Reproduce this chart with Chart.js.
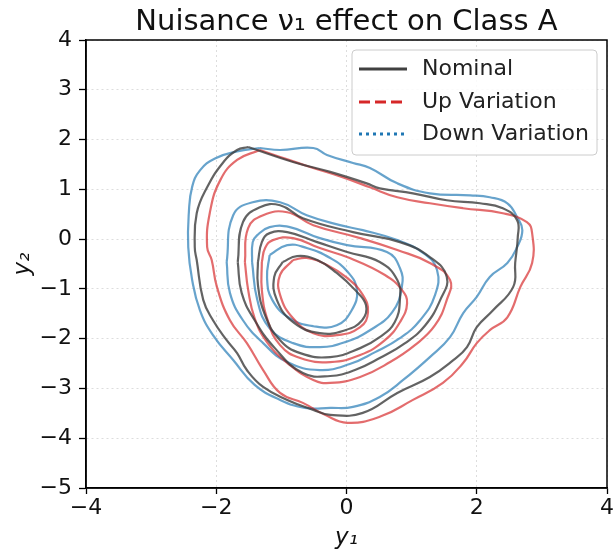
<!DOCTYPE html>
<html>
<head>
<meta charset="utf-8">
<script src="https://cdn.jsdelivr.net/npm/chart.js@4.4.1/dist/chart.umd.min.js"></script>
<style>
  html, body { margin: 0; padding: 0; background: #fff; }
  #wrap { width: 616px; height: 553px; }
</style>
</head>
<body>
<div id="wrap"><canvas id="ContourChart"></canvas></div>
<script>
// contour levels, outer ring first, as [y1, y2] pairs
const nominalOuter = [[-1.51,1.85],[-0.82,1.55],[-0.25,1.35],[0.31,1.12],[0.51,1.02],[1.02,0.92],[1.54,0.78],[2.05,0.72],[2.40,0.62],[2.62,0.38],[2.63,0.04],[2.59,-0.48],[2.56,-0.96],[2.25,-1.43],[2.00,-1.77],[1.85,-2.17],[1.64,-2.43],[1.28,-2.77],[0.78,-3.09],[0.25,-3.49],[-0.25,-3.53],[-0.51,-3.43],[-0.91,-3.23],[-1.28,-2.97],[-1.53,-2.63],[-1.68,-2.29],[-1.84,-2.03],[-2.05,-1.63],[-2.20,-1.22],[-2.30,-0.42],[-2.33,-0.16],[-2.30,0.52],[-2.14,1.04],[-1.90,1.53],[-1.68,1.79]];
const nominalSecond = [[-1.67,-0.46],[-1.59,0.34],[-1.33,0.64],[-1.02,0.68],[-0.67,0.42],[0.10,0.14],[0.82,-0.06],[1.28,-0.36],[1.54,-0.76],[1.44,-1.22],[1.21,-1.73],[0.90,-2.09],[0.51,-2.39],[0.13,-2.63],[-0.25,-2.75],[-0.67,-2.69],[-1.10,-2.19],[-1.41,-1.63],[-1.61,-1.08]];
const nominalThird = [[-1.36,-0.46],[-1.30,-0.06],[-1.18,0.12],[-0.91,0.14],[-0.45,-0.06],[0.01,-0.26],[0.51,-0.46],[0.78,-0.82],[0.82,-1.22],[0.74,-1.67],[0.51,-1.97],[0.21,-2.19],[-0.25,-2.37],[-0.71,-2.29],[-1.02,-2.03],[-1.25,-1.53],[-1.36,-0.92]];
const nominalInner = [[-0.98,-0.46],[-0.76,-0.34],[-0.45,-0.42],[-0.15,-0.68],[0.13,-1.02],[0.30,-1.33],[0.24,-1.63],[-0.02,-1.83],[-0.41,-1.89],[-0.82,-1.67],[-1.07,-1.22],[-1.11,-0.76]];

const upOuter = [[-1.33,1.79],[-1.02,1.65],[-0.56,1.45],[-0.05,1.24],[0.36,1.04],[0.78,0.84],[1.28,0.72],[1.79,0.62],[2.40,0.52],[2.77,0.34],[2.85,0.12],[2.85,-0.48],[2.67,-0.96],[2.47,-1.57],[2.20,-1.83],[2.00,-2.09],[1.79,-2.49],[1.48,-2.89],[1.02,-3.23],[0.51,-3.57],[0.01,-3.69],[-0.33,-3.53],[-0.67,-3.29],[-1.02,-3.09],[-1.28,-2.63],[-1.53,-2.09],[-1.79,-1.63],[-1.99,-0.96],[-2.07,-0.42],[-2.14,-0.16],[-2.10,0.52],[-1.94,1.18],[-1.68,1.59]];
const upSecond = [[-1.56,-0.46],[-1.51,0.22],[-1.28,0.48],[-0.91,0.54],[-0.51,0.28],[0.21,0.02],[0.78,-0.22],[1.28,-0.48],[1.59,-0.82],[1.54,-1.22],[1.36,-1.73],[1.05,-2.13],[0.67,-2.47],[0.21,-2.77],[-0.25,-2.89],[-0.51,-2.83],[-0.87,-2.53],[-1.21,-2.09],[-1.41,-1.59],[-1.51,-1.02]];
const upThird = [[-1.30,-0.46],[-1.25,-0.18],[-1.13,-0.02],[-0.82,0.02],[-0.41,-0.18],[0.05,-0.38],[0.59,-0.72],[0.85,-1.02],[0.93,-1.29],[0.82,-1.67],[0.59,-2.03],[0.21,-2.33],[-0.25,-2.47],[-0.71,-2.39],[-1.02,-2.13],[-1.21,-1.63],[-1.30,-1.02]];
const upInner = [[-0.82,-0.42],[-0.61,-0.38],[-0.30,-0.52],[0.01,-0.78],[0.25,-1.12],[0.33,-1.47],[0.21,-1.77],[-0.15,-1.93],[-0.51,-1.89],[-0.82,-1.59],[-1.02,-1.12],[-1.02,-0.72]];

const downOuter = [[-1.33,1.83],[-1.02,1.79],[-0.51,1.83],[-0.30,1.69],[0.10,1.53],[0.36,1.43],[0.78,1.12],[1.28,0.92],[1.90,0.88],[2.20,0.84],[2.47,0.72],[2.62,0.44],[2.70,0.18],[2.62,-0.16],[2.47,-0.48],[2.20,-0.76],[2.00,-1.16],[1.79,-1.49],[1.59,-1.97],[1.28,-2.37],[0.87,-2.83],[0.51,-3.17],[0.10,-3.37],[-0.25,-3.39],[-0.64,-3.39],[-1.02,-3.23],[-1.41,-2.93],[-1.74,-2.43],[-2.05,-1.93],[-2.25,-1.43],[-2.37,-0.82],[-2.43,-0.16],[-2.42,0.55],[-2.37,1.05],[-2.25,1.38],[-2.02,1.62],[-1.68,1.76]];
const downSecond = [[-1.84,-0.46],[-1.74,0.48],[-1.44,0.74],[-1.02,0.74],[-0.61,0.48],[-0.10,0.28],[0.25,0.18],[0.78,-0.02],[1.18,-0.28],[1.39,-0.62],[1.36,-1.12],[1.13,-1.63],[0.82,-1.99],[0.44,-2.27],[0.05,-2.51],[-0.41,-2.63],[-0.91,-2.47],[-1.28,-2.09],[-1.59,-1.63],[-1.79,-1.08]];
const downThird = [[-1.45,-0.46],[-1.44,-0.06],[-1.37,0.08],[-1.18,0.24],[-0.87,0.24],[-0.41,0.02],[0.01,-0.12],[0.62,-0.26],[0.82,-0.58],[0.85,-0.96],[0.70,-1.47],[0.36,-1.83],[-0.02,-2.07],[-0.41,-2.17],[-0.82,-2.09],[-1.18,-1.79],[-1.37,-1.22]];
const downInner = [[-1.18,-0.32],[-0.91,-0.12],[-0.61,-0.18],[-0.25,-0.38],[0.02,-0.66],[0.16,-1.02],[0.08,-1.43],[-0.15,-1.73],[-0.51,-1.75],[-0.87,-1.59],[-1.14,-1.22],[-1.22,-0.78]];

const xTicks = [-4, -2, 0, 2, 4];
const yTicks = [-5, -4, -3, -2, -1, 0, 1, 2, 3, 4];
const legendLabels = ['Nominal', 'Up Variation', 'Down Variation'];

const NOMINAL = 'rgba(60, 60, 60, 0.8)';
const UP = 'rgba(214, 39, 40, 0.68)';
const DOWN = 'rgba(31, 119, 180, 0.68)';
const FONT = "'DejaVu Sans', sans-serif";

function ring(points, color) {
  const pts = points.map(p => ({x: p[0], y: p[1]}));
  pts.push(pts[0]);
  return {
    data: pts,
    showLine: true,
    borderColor: color,
    borderWidth: 2.2,
    pointRadius: 0,
    tension: 0.45,
    fill: false
  };
}

const minus = v => String(v).replace('-', '\u2212');

// legend inside the axes, top right, like matplotlib
const boxLegend = {
  id: 'boxLegend',
  afterDraw(chart) {
    const ctx = chart.ctx;
    const x0 = 352, y0 = 50, w = 245, h = 105;
    ctx.save();
    ctx.beginPath();
    ctx.roundRect(x0, y0, w, h, 4);
    ctx.fillStyle = 'rgba(255,255,255,0.85)';
    ctx.fill();
    ctx.strokeStyle = '#cccccc';
    ctx.lineWidth = 1;
    ctx.stroke();
    const rows = [69, 102, 134];
    const styles = [
      {color: '#404040', dash: []},
      {color: '#d62728', dash: [11, 5]},
      {color: '#1f77b4', dash: [3, 4]}
    ];
    rows.forEach((ry, i) => {
      ctx.beginPath();
      ctx.setLineDash(styles[i].dash);
      ctx.strokeStyle = styles[i].color;
      ctx.lineWidth = 3;
      ctx.moveTo(359, ry);
      ctx.lineTo(407, ry);
      ctx.stroke();
      ctx.setLineDash([]);
      ctx.fillStyle = '#222';
      ctx.font = '22px ' + FONT;
      ctx.textBaseline = 'middle';
      ctx.fillText(legendLabels[i], 422, ry);
    });
    ctx.restore();
  }
};

const frame = {
  id: 'frame',
  afterDraw(chart) {
    const a = chart.chartArea, ctx = chart.ctx;
    ctx.save();
    ctx.strokeStyle = '#000';
    ctx.lineWidth = 1.5;
    ctx.strokeRect(a.left, a.top, a.right - a.left, a.bottom - a.top);
    ctx.restore();
  }
};

const ctx = document.getElementById('ContourChart');

new Chart(ctx, {
  type: 'scatter',
  data: {
    datasets: [
      ring(nominalOuter, NOMINAL), ring(nominalSecond, NOMINAL), ring(nominalThird, NOMINAL), ring(nominalInner, NOMINAL),
      ring(upOuter, UP), ring(upSecond, UP), ring(upThird, UP), ring(upInner, UP),
      ring(downOuter, DOWN), ring(downSecond, DOWN), ring(downThird, DOWN), ring(downInner, DOWN)
    ]
  },
  options: {
    responsive: true,
    maintainAspectRatio: false,
    animation: false,
    layout: { padding: { right: 9 } },
    plugins: {
      legend: { display: false },
      tooltip: { enabled: false },
      title: {
        display: true,
        fullSize: false,
        text: 'Nuisance \u03bd\u2081 effect on Class A',
        color: '#111',
        font: { family: FONT, size: 29, weight: 'normal' },
        padding: { top: 5, bottom: 0.2 }
      }
    },
    scales: {
      x: {
        type: 'linear',
        min: -4,
        max: 4,
        afterBuildTicks: s => { s.ticks = xTicks.map(v => ({value: v})); },
        afterFit: s => { s.height = 65; },
        ticks: {
          color: '#111',
          font: { family: FONT, size: 22 },
          padding: 1,
          callback: minus
        },
        grid: { color: '#dddddd', lineWidth: 1, tickColor: '#000', tickLength: 6, tickWidth: 1.3, tickBorderDash: [] },
        border: { display: true, color: '#000', width: 1.5, dash: [2, 3] },
        title: {
          display: true,
          text: 'y\u2081',
          color: '#111',
          font: { family: FONT, size: 23, style: 'italic' },
          padding: { top: 0, bottom: 1 }
        }
      },
      y: {
        type: 'linear',
        min: -5,
        max: 4,
        afterBuildTicks: s => { s.ticks = yTicks.map(v => ({value: v})); },
        afterFit: s => { s.width = 86; },
        ticks: {
          color: '#111',
          font: { family: FONT, size: 22 },
          padding: 7,
          callback: minus
        },
        grid: { color: '#dddddd', lineWidth: 1, tickColor: '#000', tickLength: 7, tickWidth: 1.3, tickBorderDash: [] },
        border: { display: true, color: '#000', width: 1.5, dash: [2, 3] },
        title: {
          display: true,
          text: 'y\u2082',
          color: '#111',
          font: { family: FONT, size: 23, style: 'italic' },
          padding: { top: 9, bottom: 0 }
        }
      }
    }
  },
  plugins: [boxLegend, frame]
});
</script>
</body>
</html>
